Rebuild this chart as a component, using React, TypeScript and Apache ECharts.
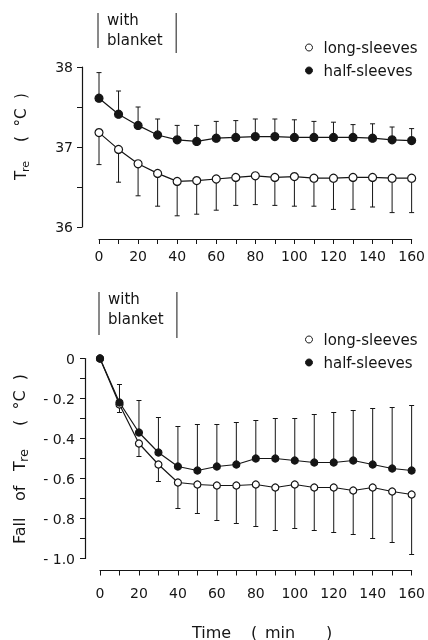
import React, { useEffect, useRef } from "react";
import * as echarts from "echarts";

const times = [0, 10, 20, 30, 40, 50, 60, 70, 80, 90, 100, 110, 120, 130, 140, 150, 160];

// Top panel: rectal temperature (°C)
const topLong = [37.18, 36.97, 36.79, 36.67, 36.57, 36.58, 36.6, 36.62, 36.64, 36.62, 36.63, 36.61, 36.61, 36.62, 36.62, 36.61, 36.61];
const topLongLow = [36.78, 36.56, 36.39, 36.26, 36.14, 36.16, 36.21, 36.27, 36.28, 36.27, 36.26, 36.26, 36.22, 36.22, 36.25, 36.18, 36.18];
const topHalf = [37.61, 37.41, 37.27, 37.15, 37.09, 37.07, 37.11, 37.12, 37.13, 37.13, 37.12, 37.12, 37.12, 37.12, 37.11, 37.09, 37.08];
const topHalfHigh = [37.93, 37.7, 37.5, 37.35, 37.27, 37.27, 37.32, 37.33, 37.35, 37.35, 37.34, 37.32, 37.31, 37.28, 37.29, 37.25, 37.23];

// Bottom panel: fall of rectal temperature (°C)
const botLong = [0, -0.23, -0.425, -0.53, -0.62, -0.63, -0.635, -0.635, -0.63, -0.645, -0.63, -0.645, -0.645, -0.66, -0.645, -0.665, -0.68];
const botLongLow = [0, -0.27, -0.49, -0.615, -0.75, -0.775, -0.81, -0.825, -0.84, -0.86, -0.85, -0.86, -0.87, -0.88, -0.9, -0.92, -0.98];
const botHalf = [0, -0.22, -0.37, -0.47, -0.54, -0.56, -0.54, -0.53, -0.5, -0.5, -0.51, -0.52, -0.52, -0.51, -0.53, -0.55, -0.56];
const botHalfHigh = [0, -0.13, -0.21, -0.295, -0.34, -0.33, -0.33, -0.32, -0.31, -0.3, -0.3, -0.28, -0.27, -0.26, -0.25, -0.245, -0.235];

const seriesNames = ["long-sleeves", "half-sleeves"];
const annotationLines = ["with", "blanket"];
const blanketPeriod = [0, 40];

const INK = "#151515";
const FONT = "DejaVu Sans";

function errRender(params: any, api: any) {
  const x = api.value(0);
  const v = api.value(1);
  const e = api.value(2);
  if (v === e) return null;
  const p1 = api.coord([x, v]);
  const p2 = api.coord([x, e]);
  const st = { stroke: INK, lineWidth: 1 };
  return {
    type: "group",
    children: [
      { type: "line", shape: { x1: p1[0], y1: p1[1], x2: p2[0], y2: p2[1] }, style: st },
      { type: "line", shape: { x1: p2[0] - 2.5, y1: p2[1], x2: p2[0] + 2.5, y2: p2[1] }, style: st },
    ],
  };
}

function pairs(vals: number[]) {
  return times.map((t, i) => [t, vals[i]]);
}
function triples(vals: number[], errs: number[]) {
  return times.map((t, i) => [t, vals[i], errs[i]]);
}

export default function App() {
  const ref = useRef<HTMLDivElement>(null);
  useEffect(() => {
    document.body.style.margin = "0";
    const chart = echarts.init(ref.current!, undefined, { renderer: "svg" });
    const label = { color: INK, fontFamily: FONT, fontSize: 14 };
    const xAxisBase = (gi: number, margin: number) => ({
      type: "value",
      gridIndex: gi,
      min: 0,
      max: 160,
      interval: 10,
      offset: 12,
      axisLine: { onZero: false, lineStyle: { color: INK, width: 1.2 } },
      axisTick: { length: 5, lineStyle: { color: INK } },
      axisLabel: { ...label, margin, formatter: (v: number) => (v % 20 === 0 ? String(v) : "") },
      splitLine: { show: false },
    });
    const lineSeries = (name: string, data: number[], gi: number, open: boolean, size: number) => ({
      type: "line",
      name,
      xAxisIndex: gi,
      yAxisIndex: gi,
      data: pairs(data),
      symbol: "circle",
      symbolSize: size,
      showAllSymbol: true,
      z: 3,
      lineStyle: { color: INK, width: 1.2 },
      itemStyle: { color: open ? "#fff" : INK, borderColor: INK, borderWidth: 1.2 },
    });
    const errSeries = (vals: number[], errs: number[], gi: number) => ({
      type: "custom",
      xAxisIndex: gi,
      yAxisIndex: gi,
      data: triples(vals, errs),
      encode: { x: 0, y: [1, 2] },
      renderItem: errRender,
      z: 1,
      silent: true,
    });
    const legendBase = (top: number) => ({
      orient: "vertical",
      left: 300,
      top,
      itemGap: 8,
      itemWidth: 7,
      itemHeight: 7,
      textStyle: { color: INK, fontFamily: FONT, fontSize: 15, padding: [0, 0, 0, 6] },
      data: [
        { name: seriesNames[0], icon: "circle", itemStyle: { color: "#fff", borderColor: INK, borderWidth: 1 } },
        { name: seriesNames[1], icon: "circle", itemStyle: { color: INK, borderColor: INK, borderWidth: 1 } },
      ],
    });
    chart.setOption({
      animation: false,
      grid: [
        { left: 99, right: 14, top: 67, height: 160 },
        { left: 100, right: 13, top: 358.5, height: 200 },
      ],
      xAxis: [xAxisBase(0, 10), xAxisBase(1, 15)],
      yAxis: [
        {
          type: "value",
          gridIndex: 0,
          min: 36,
          max: 38,
          interval: 0.5,
          offset: 17,
          axisLine: { show: true, onZero: false, lineStyle: { color: INK, width: 1.2 } },
          axisTick: { show: true, length: 5, lineStyle: { color: INK } },
          axisLabel: { ...label, margin: 9, formatter: (v: number) => (Math.abs(v - Math.round(v)) < 1e-6 ? String(Math.round(v)) : "") },
          splitLine: { show: false },
        },
        {
          type: "value",
          gridIndex: 1,
          min: -1,
          max: 0,
          interval: 0.1,
          offset: 15,
          axisLine: { show: true, onZero: false, lineStyle: { color: INK, width: 1.2 } },
          axisTick: { show: true, length: 5, lineStyle: { color: INK } },
          axisLabel: {
            ...label,
            margin: 10,
            formatter: (v: number) => {
              const r = Math.round(v * 10);
              if (r % 2 !== 0) return "";
              if (r === 0) return "0";
              return "- " + Math.abs(r / 10).toFixed(1);
            },
          },
          splitLine: { show: false },
        },
      ],
      legend: [legendBase(35), legendBase(327)],
      series: [
        errSeries(topLong, topLongLow, 0),
        errSeries(topHalf, topHalfHigh, 0),
        lineSeries(seriesNames[0], topLong, 0, true, 8),
        lineSeries(seriesNames[1], topHalf, 0, false, 8),
        errSeries(botLong, botLongLow, 1),
        errSeries(botHalf, botHalfHigh, 1),
        lineSeries(seriesNames[0], botLong, 1, true, 7),
        lineSeries(seriesNames[1], botHalf, 1, false, 7),
      ],
    });

    const tx = (gi: number, v: number) => chart.convertToPixel({ xAxisIndex: gi }, v) as number;
    const textStyle = (size: number) => ({ fill: INK, font: `${size}px "${FONT}"`, textVerticalAlign: "middle" });

    const annotation = (gi: number, yTop: number, yBottomL: number, yBottomR: number) => {
      const xl = tx(gi, blanketPeriod[0]) - 1;
      const xr = tx(gi, blanketPeriod[1]) - 1;
      return [
        { type: "line", shape: { x1: xl, y1: yTop, x2: xl, y2: yBottomL }, style: { stroke: INK, lineWidth: 1 } },
        { type: "line", shape: { x1: xr, y1: yTop, x2: xr, y2: yBottomR }, style: { stroke: INK, lineWidth: 1 } },
        { type: "text", x: xl + 9, y: yTop + 7, style: { text: annotationLines[0], ...textStyle(15) } },
        { type: "text", x: xl + 9, y: yTop + 27, style: { text: annotationLines[1], ...textStyle(15) } },
      ];
    };

    chart.setOption({
      graphic: [
        ...annotation(0, 13, 48, 53),
        ...annotation(1, 292, 335, 338),
        {
          type: "group",
          x: 21,
          y: 180,
          rotation: Math.PI / 2,
          children: [
            { type: "text", x: 0, y: 0, style: { text: "T", ...textStyle(15) } },
            { type: "text", x: 8, y: 4, style: { text: "re", ...textStyle(11) } },
            { type: "text", x: 38, y: 0, style: { text: "(  °C  )", ...textStyle(15) } },
          ],
        },
        {
          type: "group",
          x: 19,
          y: 544,
          rotation: Math.PI / 2,
          children: [
            { type: "text", x: 0, y: 0, style: { text: "Fall", ...textStyle(16) } },
            { type: "text", x: 43, y: 0, style: { text: "of", ...textStyle(16) } },
            { type: "text", x: 73, y: 0, style: { text: "T", ...textStyle(16) } },
            { type: "text", x: 82, y: 4, style: { text: "re", ...textStyle(13) } },
            { type: "text", x: 118, y: 0, style: { text: "(  °C  )", ...textStyle(16) } },
          ],
        },
        { type: "text", x: 192, y: 632, style: { text: "Time", ...textStyle(16) } },
        { type: "text", x: 251, y: 632, style: { text: "(", ...textStyle(16) } },
        { type: "text", x: 265, y: 632, style: { text: "min", ...textStyle(16) } },
        { type: "text", x: 326, y: 632, style: { text: ")", ...textStyle(16) } },
      ],
    });
    return () => chart.dispose();
  }, []);
  return <div ref={ref} style={{ position: "fixed", left: 0, top: 0, width: 428, height: 640 }} />;
}
